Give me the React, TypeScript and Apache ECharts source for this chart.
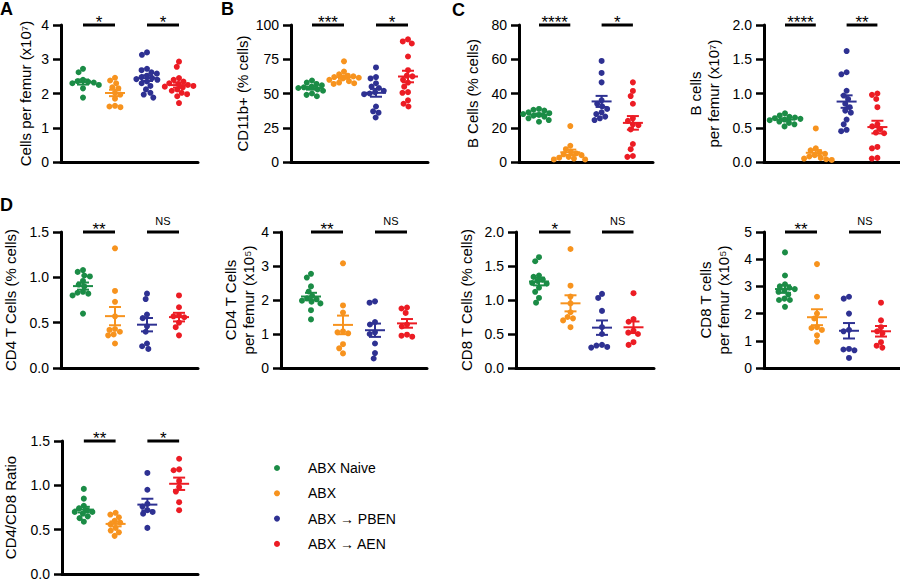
import React, { useEffect, useRef } from 'react';
import * as echarts from 'echarts';

const FONT = 'Liberation Sans, Arial, Helvetica, sans-serif';

const groups = ['ABX Naive', 'ABX', 'ABX → PBEN', 'ABX → AEN'];
const colors = ['#1b8c46', '#f7931e', '#2e3192', '#ec1c24'];

// A: Cells per femur (x10^7)
const cellsPerFemur = [
  [2.72, 2.62, 2.4, 2.36, 2.34, 2.32, 2.3, 2.25, 2.15, 1.88],
  [2.46, 2.38, 2.3, 2.18, 2.15, 2.02, 1.97, 1.85, 1.64, 1.62, 1.6],
  [3.2, 3.13, 2.72, 2.68, 2.62, 2.58, 2.52, 2.48, 2.45, 2.42, 2.4, 2.35, 2.3, 2.22, 2.12, 2.02, 1.97, 1.88],
  [2.93, 2.78, 2.45, 2.4, 2.35, 2.3, 2.28, 2.25, 2.22, 2.2, 2.18, 2.12, 2.08, 2.02, 1.98, 1.92, 1.72],
];
// B: CD11b+ (% cells)
const cd11bPct = [
  [59.5, 58, 57, 56, 55, 54.5, 54, 53, 52, 50, 49, 48],
  [73.5, 66, 64, 63, 62.5, 62, 61.5, 61, 60, 59, 58, 57.5, 57],
  [69, 62, 61, 57.5, 55, 54, 52, 51, 50, 49.5, 40.5, 37, 36, 32.5],
  [89.5, 88, 86.5, 77, 67, 63, 62.5, 60, 58, 55, 51, 50.5, 45, 42.5, 40.5],
];
// C: B Cells (% cells)
const bCellPct = [
  [31, 30.5, 30, 29, 28.5, 28, 27.5, 27, 26.5, 25.5, 24.5, 23.5],
  [21, 9.5, 7.5, 6, 5, 4.5, 4, 3, 2.5, 2, 1.5, 1.5],
  [59, 52, 46.5, 36, 34, 32.5, 31, 29, 28, 26.5, 25.5, 24.5],
  [46.5, 41.5, 38.5, 34, 25.5, 24, 22, 21.5, 19, 10.5, 7.5, 3.5, 3],
];
// C: B cells per femur (x10^7)
const bCellCount = [
  [0.71, 0.68, 0.66, 0.65, 0.64, 0.63, 0.62, 0.61, 0.59, 0.57, 0.55, 0.52],
  [0.49, 0.2, 0.17, 0.14, 0.12, 0.1, 0.08, 0.06, 0.05, 0.04, 0.03],
  [1.62, 1.31, 1.28, 1.04, 0.97, 0.92, 0.85, 0.8, 0.75, 0.72, 0.62, 0.55, 0.47, 0.45],
  [1.0, 0.98, 0.92, 0.8, 0.55, 0.52, 0.48, 0.43, 0.42, 0.22, 0.2, 0.06, 0.05],
];
// D: CD4 T Cells (% cells)
const cd4Pct = [
  [1.08, 1.06, 1.02, 1.01, 0.96, 0.92, 0.9, 0.84, 0.83, 0.82, 0.8, 0.6],
  [1.32, 0.85, 0.73, 0.57, 0.43, 0.42, 0.4, 0.37, 0.36, 0.27],
  [0.82, 0.76, 0.59, 0.55, 0.46, 0.4, 0.27, 0.24, 0.21],
  [0.8, 0.67, 0.58, 0.57, 0.56, 0.5, 0.45, 0.36],
];
// D: CD4 T Cells per femur (x10^5)
const cd4Count = [
  [2.77, 2.66, 2.4, 2.25, 2.12, 2.05, 2.02, 1.98, 1.95, 1.9, 1.7, 1.43],
  [3.08, 1.84, 1.63, 1.08, 1.05, 1.02, 0.7, 0.58, 0.43],
  [1.96, 1.92, 1.35, 1.28, 1.05, 1.0, 0.72, 0.44, 0.28],
  [1.78, 1.75, 1.62, 1.28, 1.22, 0.98, 0.95, 0.92],
];
// D: CD8 T Cells (% cells)
const cd8Pct = [
  [1.63, 1.57, 1.36, 1.34, 1.3, 1.28, 1.25, 1.24, 1.18, 1.12, 1.03, 0.96],
  [1.75, 1.21, 1.05, 0.95, 0.82, 0.75, 0.73, 0.7, 0.6],
  [1.09, 1.03, 0.84, 0.6, 0.5, 0.34, 0.33, 0.31, 0.3],
  [1.1, 0.72, 0.68, 0.55, 0.52, 0.5, 0.38, 0.34],
];
// D: CD8 T cells per femur (x10^5)
const cd8Count = [
  [4.25, 3.4, 3.08, 3.0, 2.95, 2.9, 2.85, 2.8, 2.7, 2.55, 2.5, 2.5, 2.25],
  [3.82, 2.62, 2.0, 1.82, 1.5, 1.47, 1.4, 1.2, 0.97],
  [2.62, 2.55, 2.0, 1.4, 1.35, 0.7, 0.68, 0.65, 0.37],
  [2.4, 1.75, 1.5, 1.35, 1.28, 0.95, 0.82, 0.75],
];
// D: CD4/CD8 Ratio
const cd4cd8Ratio = [
  [0.96, 0.85, 0.77, 0.74, 0.72, 0.7, 0.7, 0.68, 0.65, 0.63, 0.59],
  [0.69, 0.67, 0.64, 0.6, 0.58, 0.56, 0.52, 0.49, 0.47, 0.43],
  [1.14, 0.95, 0.79, 0.76, 0.72, 0.7, 0.68, 0.52],
  [1.3, 1.18, 1.17, 1.05, 0.98, 0.93, 0.81, 0.72],
];

// significance labels for (group0 vs group1) and (group2 vs group3)
const sigCells = ['*', '*'];
const sigCd11b = ['***', '*'];
const sigBPct = ['****', '*'];
const sigBCount = ['****', '**'];
const sigCd4Pct = ['**', 'NS'];
const sigCd4Count = ['**', 'NS'];
const sigCd8Pct = ['*', 'NS'];
const sigCd8Count = ['**', 'NS'];
const sigRatio = ['**', '*'];

// y-axis scales
const yMaxes = [4, 100, 80, 2, 1.5, 4, 2, 5, 1.5];
const yIntervals = [1, 25, 20, 0.5, 0.5, 1, 0.5, 1, 0.5];
const yDecimals = [0, 0, 0, 1, 1, 0, 1, 0, 1];
const yNames = [
  'Cells per femur (x10⁷)',
  'CD11b+ (% cells)',
  'B Cells (% cells)',
  'B cells\nper femur (x10⁷)',
  'CD4 T Cells (% cells)',
  'CD4 T Cells\nper femur (x10⁵)',
  'CD8 T Cells (% cells)',
  'CD8 T cells\nper femur (x10⁵)',
  'CD4/CD8 Ratio',
];
const panelData = [cellsPerFemur, cd11bPct, bCellPct, bCellCount, cd4Pct, cd4Count, cd8Pct, cd8Count, cd4cd8Ratio];
const panelSig = [sigCells, sigCd11b, sigBPct, sigBCount, sigCd4Pct, sigCd4Count, sigCd8Pct, sigCd8Count, sigRatio];
const panelLetters = ['A', 'B', 'C', 'D'];

// layout (pixels)
const layout = [
  { left: 61, top: 25, width: 137, height: 137, offset: 22, step: 32, nameGap: 27 },
  { left: 291, top: 25, width: 137, height: 137, offset: 21, step: 32, nameGap: 34 },
  { left: 519, top: 25, width: 134, height: 137, offset: 20, step: 31.3, nameGap: 38 },
  { left: 764, top: 25, width: 136, height: 137, offset: 21, step: 30.8, nameGap: 42 },
  { left: 61, top: 232, width: 137, height: 136, offset: 22, step: 32, nameGap: 42 },
  { left: 281, top: 232, width: 146, height: 136, offset: 30, step: 32, nameGap: 19 },
  { left: 516, top: 232, width: 138, height: 136, offset: 23, step: 31.5, nameGap: 41 },
  { left: 764, top: 232, width: 136, height: 136, offset: 21, step: 32, nameGap: 32 },
  { left: 61, top: 441, width: 137, height: 136, offset: 22, step: 32, nameGap: 43 },
];
const letterPos = [
  { x: 0, y: 0 },
  { x: 221, y: 0 },
  { x: 452, y: 1 },
  { x: 0, y: 196 },
];

function swarm(vals: number[], pxPerY: number, d: number): number[] {
  const order = vals.map((_, i) => i).sort((a, b) => vals[b] - vals[a]);
  const placed: { x: number; y: number }[] = [];
  const out: number[] = new Array(vals.length).fill(0);
  order.forEach((i) => {
    const y = vals[i] * pxPerY;
    const near = placed.filter((p) => Math.abs(p.y - y) < d);
    const cands = [0];
    near.forEach((p) => {
      const w = Math.sqrt(d * d - (p.y - y) * (p.y - y));
      cands.push(p.x - w, p.x + w);
    });
    cands.sort((a, b) => Math.abs(a) - Math.abs(b) || a - b);
    let x = 0;
    for (const c of cands) {
      if (near.every((p) => Math.hypot(p.x - c, p.y - y) >= d - 1e-6)) {
        x = c;
        break;
      }
    }
    placed.push({ x, y });
    out[i] = x;
  });
  return out;
}

function buildOption() {
  const option: any = {
    animation: false,
    textStyle: { fontFamily: FONT },
    grid: [],
    xAxis: [],
    yAxis: [],
    series: [],
    legend: {
      data: groups,
      orient: 'vertical',
      left: 269,
      top: 455,
      icon: 'circle',
      itemWidth: 6,
      itemHeight: 6,
      itemGap: 9.3,
      selectedMode: false,
      textStyle: { fontSize: 14, color: '#000', fontFamily: FONT, lineHeight: 16, padding: [0, 0, 0, 23] },
    },
    graphic: panelLetters.map((t, i) => ({
      type: 'text',
      x: letterPos[i].x,
      y: letterPos[i].y,
      style: { text: t, fontSize: 18, fontWeight: 'bold', fontFamily: FONT, fill: '#000', verticalAlign: 'top' },
    })),
  };

  panelData.forEach((data, i) => {
    const L = layout[i];
    const ymax = yMaxes[i];
    const dec = yDecimals[i];
    const sig = panelSig[i];
    option.grid.push({ left: L.left, top: L.top, width: L.width, height: L.height });
    const xMin = -L.offset / L.step;
    const xMax = xMin + L.width / L.step;
    option.xAxis.push({
      type: 'value',
      gridIndex: i,
      min: xMin,
      max: xMax,
      axisLine: { show: true, onZero: false, lineStyle: { color: '#000', width: 3 } },
      axisTick: { show: false },
      axisLabel: { show: false },
      splitLine: { show: false },
    });
    option.yAxis.push({
      type: 'value',
      gridIndex: i,
      min: 0,
      max: ymax,
      interval: yIntervals[i],
      name: yNames[i],
      nameLocation: 'middle',
      nameRotate: 90,
      nameGap: L.nameGap,
      nameTextStyle: { fontSize: 15, color: '#000', fontFamily: FONT, lineHeight: 18 },
      axisLine: { show: true, onZero: false, lineStyle: { color: '#000', width: 3 } },
      axisTick: { show: true, length: 8, lineStyle: { color: '#000', width: 2.5 } },
      axisLabel: {
        fontSize: 14,
        color: '#000',
        fontFamily: FONT,
        margin: 12,
        formatter: (v: number) => v.toFixed(dec),
      },
      splitLine: { show: false },
    });

    const pxPerY = L.height / ymax;
    data.forEach((vals, g) => {
      const offs = swarm(vals, pxPerY, 5.6);
      option.series.push({
        type: 'scatter',
        name: groups[g],
        xAxisIndex: i,
        yAxisIndex: i,
        symbol: 'circle',
        symbolSize: 6,
        silent: true,
        itemStyle: { color: colors[g], opacity: 1 },
        z: 2,
        data: vals.map((v, k) => [g + offs[k] / L.step, v]),
      });
    });

    const stats = data.map((vals, g) => {
      const n = vals.length;
      const mean = vals.reduce((a, b) => a + b, 0) / n;
      const sd = Math.sqrt(vals.reduce((a, b) => a + (b - mean) * (b - mean), 0) / (n - 1));
      return [g, mean, sd / Math.sqrt(n)];
    });
    option.series.push({
      type: 'custom',
      xAxisIndex: i,
      yAxisIndex: i,
      clip: false,
      silent: true,
      z: 3,
      data: stats,
      renderItem: (params: any, api: any) => {
        const g = api.value(0);
        const m = api.value(1);
        const s = api.value(2);
        const c = api.coord([g, m]);
        const t = api.coord([g, m + s]);
        const b = api.coord([g, m - s]);
        const st = { stroke: colors[g], lineWidth: 2 };
        return {
          type: 'group',
          children: [
            { type: 'line', shape: { x1: c[0] - 10, y1: c[1], x2: c[0] + 10, y2: c[1] }, style: st },
            { type: 'line', shape: { x1: c[0], y1: t[1], x2: c[0], y2: b[1] }, style: st },
            { type: 'line', shape: { x1: c[0] - 6, y1: t[1], x2: c[0] + 6, y2: t[1] }, style: st },
            { type: 'line', shape: { x1: c[0] - 6, y1: b[1], x2: c[0] + 6, y2: b[1] }, style: st },
          ],
        };
      },
    });

    option.series.push({
      type: 'custom',
      xAxisIndex: i,
      yAxisIndex: i,
      clip: false,
      silent: true,
      z: 4,
      data: sig.map((_, k) => [2 * k, 2 * k + 1, ymax]),
      renderItem: (params: any, api: any) => {
        const a = api.coord([api.value(0), api.value(2)]);
        const b = api.coord([api.value(1), api.value(2)]);
        const label = sig[params.dataIndex];
        const ns = label === 'NS';
        return {
          type: 'group',
          children: [
            { type: 'line', shape: { x1: a[0], y1: a[1], x2: b[0], y2: b[1] }, style: { stroke: '#000', lineWidth: 3 } },
            {
              type: 'text',
              style: {
                text: label,
                x: (a[0] + b[0]) / 2,
                y: a[1] - (ns ? 11 : 3),
                align: 'center',
                verticalAlign: 'middle',
                fontSize: ns ? 11 : 17,
                fontFamily: FONT,
                fill: '#000',
              },
            },
          ],
        };
      },
    });
  });
  return option;
}

export default function App() {
  const ref = useRef<HTMLDivElement>(null);
  useEffect(() => {
    if (!ref.current) return;
    const chart = echarts.init(ref.current, undefined, { renderer: 'svg' });
    chart.setOption(buildOption());
    return () => chart.dispose();
  }, []);
  return (
    <div
      ref={ref}
      style={{ position: 'absolute', left: 0, top: 0, width: 900, height: 581, background: '#fff' }}
    />
  );
}
